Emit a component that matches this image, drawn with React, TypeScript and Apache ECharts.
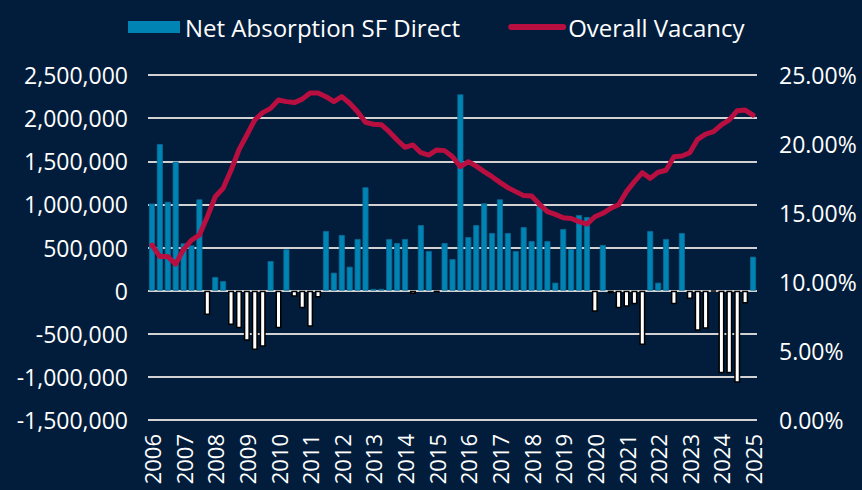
import React, { useEffect, useRef } from "react";
import * as echarts from "echarts";

const years: string[] = [
  "2006", "2007", "2008", "2009", "2010", "2011", "2012", "2013", "2014", "2015",
  "2016", "2017", "2018", "2019", "2020", "2021", "2022", "2023", "2024", "2025",
];

// Quarterly categories 2006 Q1 .. 2025 Q1
const categories: string[] = [];
years.forEach((y, i) => {
  const qs = i === years.length - 1 ? 1 : 4;
  for (let q = 1; q <= qs; q++) categories.push(`${y} Q${q}`);
});

const netAbsorption: number[] = [
  1010000, 1700000, 1030000, 1495000, 548000, 525000, 1058000, -283000,
  158000, 111000, -399000, -437000, -580000, -689000, -650000, 343000,
  -437000, 479000, -70000, -205000, -418000, -80000, 691000, 208000,
  645000, 277000, 598000, 1198000, 20000, 20000, 598000, 552000,
  598000, -40000, 760000, 459000, -20000, 552000, 366000, 2276000,
  621000, 760000, 1012000, 668000, 1058000, 668000, 459000, 737000,
  575000, 981000, 575000, 92000, 714000, 482000, 876000, 853000,
  -245000, 529000, -30000, -205000, -186000, -159000, -631000, 691000,
  92000, 598000, -159000, 668000, -97000, -465000, -441000, -10000,
  -959000, -959000, -1068000, -148000, 393000,
];

const overallVacancy: number[] = [
  12.68, 11.84, 11.84, 11.3, 12.37, 13.04, 13.4, 14.73,
  16.18, 16.79, 18.1, 19.57, 20.65, 21.74, 22.27, 22.58,
  23.19, 23.07, 23.0, 23.25, 23.7, 23.7, 23.43, 23.07,
  23.43, 22.95, 22.34, 21.57, 21.43, 21.4, 20.89, 20.29,
  19.76, 19.93, 19.37, 19.2, 19.57, 19.52, 19.08, 18.36,
  18.72, 18.4, 18.0, 17.63, 17.22, 16.84, 16.55, 16.26,
  16.23, 15.63, 15.1, 14.9, 14.66, 14.6, 14.37, 14.2,
  14.73, 14.98, 15.34, 15.6, 16.55, 17.27, 17.92, 17.51,
  17.95, 18.1, 19.08, 19.13, 19.37, 20.34, 20.72, 20.89,
  21.38, 21.74, 22.41, 22.46, 22.1,
];

const BG = "#011d3b";
const BLUE = "#0084b4";
const RED = "#b80f40";
const GRID = "#d2d2d2";
const FONT = "Open Sans";

export default function App() {
  const ref = useRef<HTMLDivElement>(null);
  useEffect(() => {
    if (!ref.current) return;
    const chart = echarts.init(ref.current, undefined, { renderer: "svg" });
    chart.setOption({
      animation: false,
      backgroundColor: BG,
      textStyle: { fontFamily: FONT },
      legend: {
        left: 123,
        top: 10,
        itemWidth: 52,
        itemHeight: 12,
        itemGap: 48,
        textStyle: { color: "#ffffff", fontSize: 24, fontFamily: FONT },
        data: [
          { name: "Net Absorption SF Direct", icon: "rect", itemStyle: { color: BLUE, borderWidth: 0 } },
          {
            name: "Overall Vacancy",
            itemStyle: { opacity: 0 },
            lineStyle: { color: RED, width: 6, cap: "round" },
          },
        ],
      },
      grid: { left: 148, right: 105, top: 75, bottom: 70, containLabel: false },
      xAxis: {
        type: "category",
        data: categories,
        boundaryGap: true,
        axisLine: { show: false },
        axisTick: { show: false },
        axisLabel: {
          interval: 3,
          rotate: 90,
          color: "#ffffff",
          fontSize: 22,
          fontFamily: FONT,
          margin: 14,
          formatter: (v: string) => v.slice(0, 4),
        },
        splitLine: { show: false },
      },
      yAxis: [
        {
          type: "value",
          min: -1500000,
          max: 2500000,
          interval: 500000,
          axisLine: { show: false },
          axisTick: { show: false },
          axisLabel: {
            color: "#ffffff",
            fontSize: 23,
            fontFamily: FONT,
            margin: 20,
            formatter: (v: number) => v.toLocaleString("en-US"),
          },
          splitLine: { show: true, lineStyle: { color: GRID, width: 2 } },
        },
        {
          type: "value",
          min: 0,
          max: 25,
          interval: 5,
          position: "right",
          axisLine: { show: false },
          axisTick: { show: false },
          axisLabel: {
            color: "#ffffff",
            fontSize: 23,
            fontFamily: FONT,
            margin: 22,
            formatter: (v: number) => v.toFixed(2) + "%",
          },
          splitLine: { show: false },
        },
      ],
      series: [
        {
          name: "Net Absorption SF Direct",
          type: "bar",
          yAxisIndex: 0,
          barWidth: "76%",
          itemStyle: { color: BLUE },
          data: netAbsorption.map((v) => ({
            value: v,
            itemStyle:
              v < 0
                ? { color: "#ffffff", borderColor: "#000000", borderWidth: 1.5 }
                : { color: BLUE, borderColor: "#0a6a95", borderWidth: 0.8 },
          })),
        },
        {
          name: "Overall Vacancy",
          type: "line",
          yAxisIndex: 1,
          symbol: "none",
          z: 5,
          lineStyle: { color: RED, width: 5, cap: "round", join: "round" },
          itemStyle: { color: RED },
          data: overallVacancy,
        },
      ],
    });
    return () => chart.dispose();
  }, []);
  return (
    <div
      ref={ref}
      style={{ position: "fixed", left: 0, top: 0, width: 862, height: 490, background: BG }}
    />
  );
}
